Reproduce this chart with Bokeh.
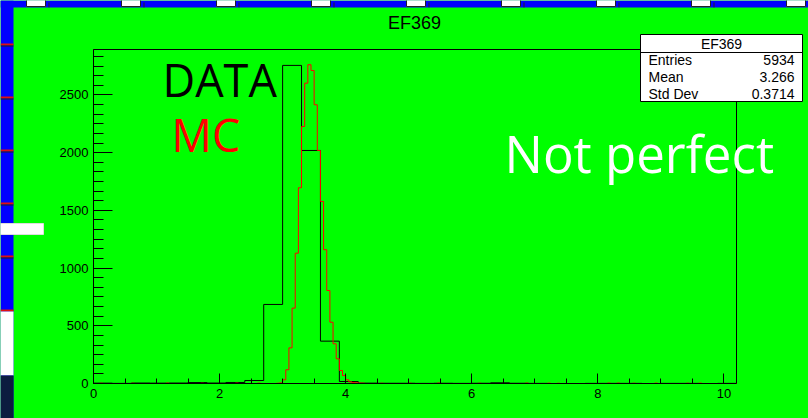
import numpy as np
from bokeh.plotting import figure
from bokeh.models import Range1d, SingleIntervalTicker
from bokeh.core.properties import value
from bokeh.embed import file_html
from bokeh.resources import INLINE

# ---- DATA histogram: 34 bins of width 0.3 on [0, 10.2] ----
data_lo, data_hi, data_nbins = 0.0, 10.2, 34
data_counts = [3, 1, 4, 3, 4, 8, 4, 9, 26, 685, 2756, 2019, 367, 17,
               3, 2, 2, 1, 2, 1, 2, 6, 2, 1, 0, 0, 1, 1, 1, 0, 1, 1, 0, 1]

# ---- MC histogram: 204 bins of width 0.05 on [0, 10.2] ----
mc_lo, mc_hi, mc_nbins = 0.0, 10.2, 204
mc_core_start = 2.90
mc_core = [2, 5, 32, 119, 309, 653, 1129, 1696, 2227, 2602, 2762, 2712, 2415,
           2019, 1577, 1159, 806, 531, 344, 214, 113, 69, 32, 14, 8, 6, 4, 3]
mc_tail_x = [0.12, 0.63, 1.18, 1.72, 2.27, 2.61, 4.55, 5.02, 5.48, 6.12,
             6.87, 7.22, 7.38, 8.17, 8.33, 8.57, 8.93, 9.41, 9.63]
mc_tail_n = [2, 2, 3, 2, 3, 3, 2, 2, 3, 2, 3, 3, 2, 3, 3, 2, 3, 2, 3]

# ---- statistics box ----
hist_name = "EF369"
stat_names = ["Entries", "Mean", "Std Dev"]
stat_values = ["5934", "3.266", "0.3714"]

y_max = 1.05 * max(data_counts)

data_edges = np.linspace(data_lo, data_hi, data_nbins + 1)
mc_width = (mc_hi - mc_lo) / mc_nbins
mc_edges = np.linspace(mc_lo, mc_hi, mc_nbins + 1)
mc_counts = np.zeros(mc_nbins)
i0 = int(round((mc_core_start - mc_lo) / mc_width))
mc_counts[i0:i0 + len(mc_core)] = mc_core
for xv, n in zip(mc_tail_x, mc_tail_n):
    mc_counts[int((xv - mc_lo) / mc_width)] += n

# ---- canvas geometry (pixels) ----
W, H = 808, 418
FRAME_L, FRAME_R, FRAME_T, FRAME_B = 93, 736, 49, 383
GREEN = "#00ff00"
BLUE = "#0000ff"
FONT = "Liberation Sans"

# the histogram frame sits inside a canvas-wide plotting area; the data
# ranges are extended so that [0, 10.2] x [0, y_max] lands on the frame box
ppx = (FRAME_R - FRAME_L) / (data_hi - data_lo)
ppy = (FRAME_B - FRAME_T) / y_max
x_range = Range1d(data_lo - FRAME_L / ppx, data_hi + (W - FRAME_R) / ppx)
y_range = Range1d(-(H - FRAME_B) / ppy, y_max + FRAME_T / ppy)

p = figure(width=W, height=H, output_backend="svg", toolbar_location=None,
           x_range=x_range, y_range=y_range,
           min_border_left=0, min_border_right=0,
           min_border_top=0, min_border_bottom=0)
p.title.visible = False
p.border_fill_color = GREEN
p.background_fill_color = GREEN
p.outline_line_color = None
p.grid.visible = False
# pixel-space ranges for the page decorations and texts (y grows downward)
p.extra_x_ranges = {"px": Range1d(0, W)}
p.extra_y_ranges = {"px": Range1d(H, 0)}

p.xaxis.fixed_location = 0
p.xaxis.bounds = (data_lo, data_hi)
p.yaxis.fixed_location = 0
p.yaxis.bounds = (0, y_max)
p.xaxis.ticker = SingleIntervalTicker(interval=2, num_minor_ticks=4)
p.yaxis.ticker = SingleIntervalTicker(interval=500, num_minor_ticks=6)
for ax in p.xaxis:
    ax.major_tick_in, ax.major_tick_out = 10, 0
    ax.minor_tick_in, ax.minor_tick_out = 5, 0
    ax.major_label_standoff = 5
for ax in p.yaxis:
    ax.major_tick_in, ax.major_tick_out = 19, 0
    ax.minor_tick_in, ax.minor_tick_out = 10, 0
    ax.major_label_standoff = 5
for ax in p.xaxis + p.yaxis:
    ax.axis_line_color = "black"
    ax.major_tick_line_color = "black"
    ax.minor_tick_line_color = "black"
    ax.major_label_text_font = FONT
    ax.major_label_text_font_size = "13px"
    ax.major_label_text_color = "black"

PX = dict(x_range_name="px", y_range_name="px")


def px_box(l, r, t, b, **kw):
    p.quad(left=[l], right=[r], top=[t], bottom=[b], **PX, **kw)


def px_text(x, y, text, font=FONT, size="14px", color="black", align="left",
            baseline="middle"):
    p.text(x=[x], y=[y], text=[text], text_font=value(font), text_font_size=size,
           text_color=color, text_align=align, text_baseline=baseline, **PX)


# surrounding screen: blue strips on the left and top edges
px_box(0, 13, 0, H, fill_color=BLUE, line_color=None)
px_box(0, W, 0, 7, fill_color=BLUE, line_color=None)
for xl in [26, 121, 216, 311, 406, 501, 596, 691, 786]:
    px_box(xl, xl + 19, -2, 6, fill_color="white", line_color="#222222", line_width=1)
    px_box(xl + 22, xl + 23, 2, 7, fill_color="#222222", line_color=None)
for yl in [44, 97, 150, 203, 256]:
    px_box(0, 13, yl - 1, yl + 1, fill_color="#e01010", line_color=None)
    px_box(0, 13, yl + 1, yl + 2, fill_color="#202020", line_color=None)
px_box(0, 13, 309, 311, fill_color="#e01010", line_color=None)
px_box(0, 13, 311, 375, fill_color="white", line_color=None)
px_box(0, 13, 375, H, fill_color="#0c1c40", line_color=None)
px_box(0, 43, 223, 234, fill_color="white", line_color="#dddddd", line_width=1)

# histogram frame
p.quad(left=[data_lo], right=[data_hi], bottom=[0], top=[y_max],
       fill_alpha=0, line_color="black", line_width=1)

# histograms drawn as outlines
p.step(data_edges, np.append(data_counts, data_counts[-1]), mode="after",
       line_color="black", line_width=1)
p.step(mc_edges, np.append(mc_counts, mc_counts[-1]), mode="after",
       line_color="#ff0000", line_width=1)

# title
px_text(414, 22, hist_name, size="18px", align="center")

# statistics box
px_box(640, 802, 34, 101, fill_color="white", line_color="black", line_width=1)
p.segment(x0=[640], y0=[52], x1=[802], y1=[52], line_color="black", line_width=1, **PX)
px_text(721, 43, hist_name, size="14px", align="center")
for k, (name, val) in enumerate(zip(stat_names, stat_values)):
    yy = 59 + 17 * k
    px_text(648, yy, name, size="14px", align="left")
    px_text(794, yy, val, size="14px", align="right")

# sample annotations
px_text(162, 79, "DATA", font="Open Sans", size="45px", baseline="middle")
px_text(171, 134, "MC", font="Open Sans", size="45px", color="#ff0000", baseline="middle")
px_text(504, 152, "Not perfect", font="Open Sans", size="51px", color="white",
        baseline="middle")

open("out.html", "w").write(file_html(p, INLINE))
